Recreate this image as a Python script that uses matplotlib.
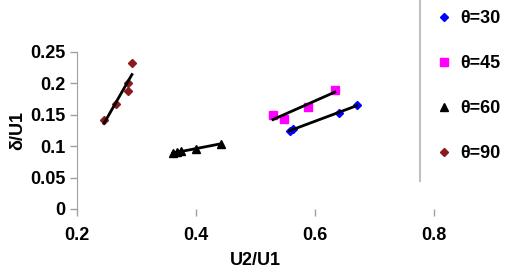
import numpy as np
import matplotlib.pyplot as plt
from matplotlib.lines import Line2D

plt.rcParams['font.family'] = ['Liberation Sans', 'DejaVu Sans']
plt.rcParams['font.weight'] = 'bold'

# data
x30 = [0.557, 0.562, 0.640, 0.670]
y30 = [0.124, 0.127, 0.153, 0.165]
x45 = [0.529, 0.547, 0.588, 0.633]
y45 = [0.150, 0.143, 0.162, 0.190]
x60 = [0.361, 0.367, 0.374, 0.399, 0.441]
y60 = [0.089, 0.090, 0.092, 0.095, 0.104]
x90 = [0.245, 0.266, 0.285, 0.286, 0.292]
y90 = [0.141, 0.167, 0.187, 0.200, 0.232]

labels = ["θ=30", "θ=45", "θ=60", "θ=90"]
colors = ["#0000ff", "#ff00ff", "#000000", "#8b1a1a"]
markers = ["D", "s", "^", "D"]
msizes = [4.5, 6, 5.5, 4.5]
xticks = [0.2, 0.4, 0.6, 0.8]
yticks = [0, 0.05, 0.1, 0.15, 0.2, 0.25]

fig = plt.figure(figsize=(5.25, 2.7), dpi=100)
ax = fig.add_axes([0.147, 0.226, 0.68, 0.582])

series = [(x30, y30), (x45, y45), (x60, y60), (x90, y90)]
for (xs, ys), c, m, ms in zip(series, colors, markers, msizes):
    xs = np.array(xs)
    ys = np.array(ys)
    ax.plot(xs, ys, linestyle="none", marker=m, color=c, markersize=ms)
    k, b = np.polyfit(xs, ys, 1)
    xl = np.array([xs.min(), xs.max()])
    ax.plot(xl, k * xl + b, color="black", linewidth=2)

ax.set_xlim(0.2, 0.8)
ax.set_ylim(0, 0.25)
ax.set_xticks(xticks)
ax.set_xticklabels(["0.2", "0.4", "0.6", "0.8"])
ax.set_yticks(yticks)
ax.set_yticklabels(["0", "0.05", "0.1", "0.15", "0.2", "0.25"])
ax.tick_params(labelsize=13, colors="#a0a0a0", labelcolor="black", length=5, width=1)
ax.tick_params(axis="x", pad=8)
for s in ["top", "right", "bottom"]:
    ax.spines[s].set_visible(False)
ax.spines["left"].set_color("#a0a0a0")
ax.set_xlabel("U2/U1", fontsize=13, fontweight="bold", labelpad=6)
ax.set_ylabel("δ/U1", fontsize=13, fontweight="bold", labelpad=3)

# legend on the right, only its left border shows
handles = [Line2D([], [], linestyle="none", marker=m, color=c, markersize=ms)
           for c, m, ms in zip(colors, markers, msizes)]
fig.legend(handles, labels, loc="upper left", bbox_to_anchor=(0.812, 0.99),
           frameon=False, fontsize=13, labelspacing=1.55, handletextpad=0.3,
           handlelength=1.2, borderaxespad=0)
fig.add_artist(Line2D([0.8, 0.8], [0.33, 1.0], color="#c0c0c0", linewidth=1.5,
                      transform=fig.transFigure))

fig.savefig("out.png", dpi=100)
